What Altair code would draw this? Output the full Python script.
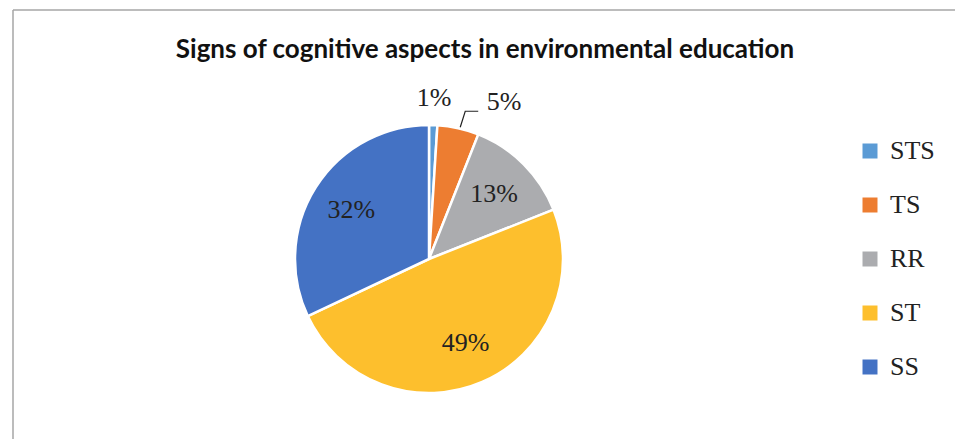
import math
import altair as alt
import pandas as pd

# Shares of each cognitive-aspect sign (percent)
categories = ["STS", "TS", "RR", "ST", "SS"]
shares = [1, 5, 13, 49, 32]
colors = ["#5b9bd5", "#ed7d31", "#abacaf", "#fdbf2d", "#4472c4"]

W, H = 955, 439
CX, CY, R = 429, 259, 134
SERIF = "Liberation Serif"

df = pd.DataFrame({
    "cat": categories,
    "val": shares,
    "order": list(range(len(categories))),
})
df["label"] = df["val"].astype(str) + "%"

color = alt.Color(
    "cat:N",
    scale=alt.Scale(domain=categories, range=colors),
    sort=categories,
    legend=alt.Legend(
        title=None, orient="none", legendX=857, legendY=138,
        symbolType="square", symbolSize=225, symbolStrokeWidth=0,
        labelFont=SERIF, labelFontSize=26, labelColor="#222222",
        labelOffset=7, rowPadding=28,
    ),
)

base = alt.Chart(df).encode(
    theta=alt.Theta("val:Q", stack=True, scale=alt.Scale(range=[0, 2 * math.pi])),
    order=alt.Order("order:Q"),
    x=alt.value(CX),
    y=alt.value(CY),
)

pie = base.mark_arc(radius=R, stroke="white", strokeWidth=2.5).encode(color=color)

text_style = dict(font=SERIF, fontSize=26, color="#222222")

# Large slices carry their label inside; the two small ones sit outside the rim
inner = base.transform_calculate(
    t="datum.val >= 10 ? datum.label : ''"
).mark_text(radius=92, **text_style).encode(text="t:N")
small = base.transform_calculate(
    t="datum.cat == 'STS' ? datum.label : ''"
).mark_text(radius=161, **text_style).encode(text="t:N")
tsl = base.transform_calculate(
    t="datum.cat == 'TS' ? datum.label : ''"
).mark_text(radius=161, dx=40, dy=0, **text_style).encode(text="t:N")

# Leader line for the TS label, anchored at the slice's mid-angle on the rim
cum = 0
for c, v in zip(categories, shares):
    if c == "TS":
        mid = (cum + v / 2) / 100 * 2 * math.pi
        break
    cum += v
ex, ey = CX + R * math.sin(mid), CY - R * math.cos(mid)
leader = pd.DataFrame({
    "px": [ex + 2, ex + 7, ex + 20],
    "py": [ey - 1, ey - 17, ey - 17],
    "k": [0, 1, 2],
})
lead = alt.Chart(leader).mark_line(color="#222222", strokeWidth=1.2).encode(
    x=alt.X("px:Q", scale=None), y=alt.Y("py:Q", scale=None), order="k:Q"
)

title = alt.Chart(pd.DataFrame({"t": ["Signs of cognitive aspects in environmental education"]})).mark_text(
    font="Lato", fontWeight="bold", fontSize=26, color="#111111", baseline="alphabetic"
).encode(text="t:N", x=alt.value(485), y=alt.value(58))

frame_top = alt.Chart(pd.DataFrame({"a": [0]})).mark_rule(color="#a6a6a6", strokeWidth=1.5).encode(
    x=alt.value(13), x2=alt.value(W), y=alt.value(10)
)
frame_left = alt.Chart(pd.DataFrame({"a": [0]})).mark_rule(color="#a6a6a6", strokeWidth=1.5).encode(
    x=alt.value(13), y=alt.value(10), y2=alt.value(H)
)

chart = alt.layer(frame_top, frame_left, pie, inner, small, tsl, lead, title).properties(
    width=W, height=H, padding=0, autosize=alt.AutoSizeParams(type="none"), background="white"
).configure_view(stroke=None)

chart.save("out.html", embed_options={"renderer": "svg", "actions": False})
